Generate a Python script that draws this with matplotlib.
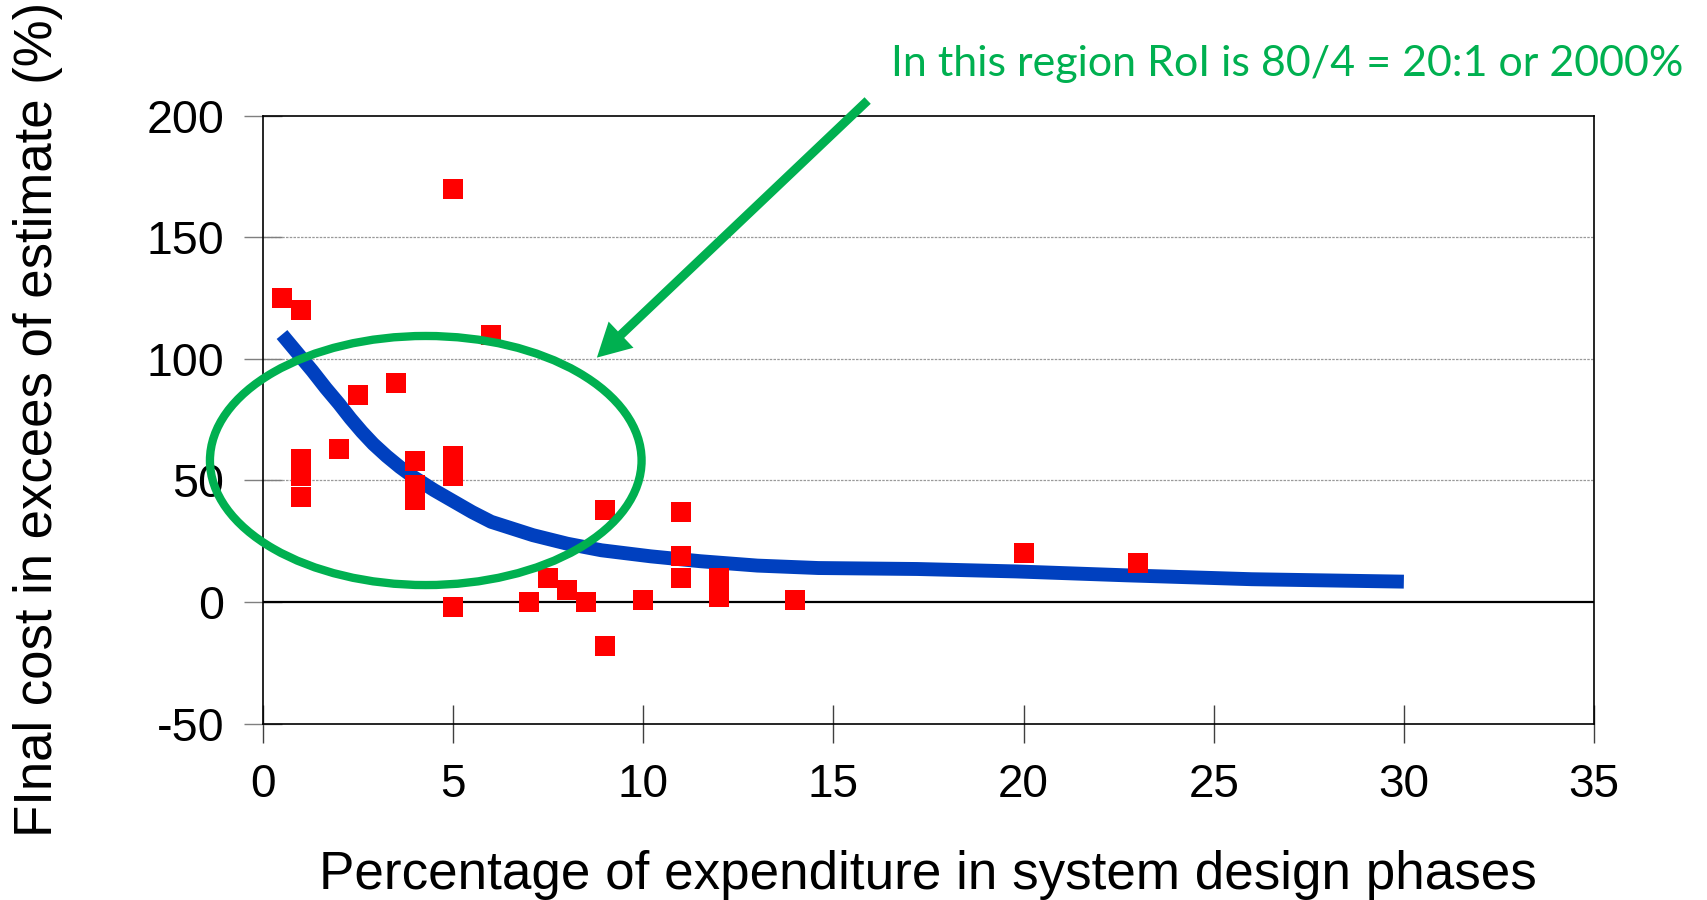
import matplotlib
matplotlib.use('Agg')
import matplotlib.pyplot as plt
from matplotlib import font_manager
from matplotlib.patches import Ellipse

############################################### data
pts_x = [0.5, 1, 1, 1, 1, 1, 2, 2.5, 3.5, 4, 4, 4, 5, 5, 5, 5, 6,
         7, 7.5, 8, 8.5, 9, 9, 10, 11, 11, 11, 12, 12, 14, 20, 23]
pts_y = [125, 120, 59, 55, 52, 43, 63, 85, 90, 58, 48, 42, 170, 60, 52, -2, 110,
         0, 10, 5, 0, 38, -18, 1, 37, 19, 10, 10, 2, 1, 20, 16]

curve_x = [0.5, 1.3, 1.65, 2.0, 2.3, 2.6, 2.9, 3.25, 3.6, 3.95, 4.5, 5.0, 5.5,
           6.0, 6.5, 7.1, 8.0, 8.9, 10.2, 11.5, 13.0, 14.6, 17.2, 19.8, 22.7,
           26.0, 30.0]
curve_y = [110, 95, 88, 81.5, 75.5, 70, 65, 60, 55.5, 51.5, 46, 41.5, 37,
           33, 30.5, 27.5, 24, 21.3, 18.8, 16.8, 15, 14, 13.6, 12.6, 11,
           9.4, 8.4]

x_ticks = [0, 5, 10, 15, 20, 25, 30, 35]
y_ticks = [-50, 0, 50, 100, 150, 200]
grid_y = [50, 100, 150]

note = 'In this region RoI is 80/4 = 20:1 or 2000%'
x_label = 'Percentage of expenditure in system design phases'
y_label = 'FInal cost in excees of estimate (%)'

green = '#00B050'
blue = '#0040BF'
red = '#FF0000'

############################################### fonts
def have(name):
    try:
        font_manager.findfont(name, fallback_to_default=False)
        return True
    except Exception:
        return False

base_font = 'Liberation Sans' if have('Liberation Sans') else 'DejaVu Sans'
note_font = 'Lato' if have('Lato') else base_font
plt.rcParams['font.family'] = [base_font, 'DejaVu Sans']

############################################### figure
fig = plt.figure(figsize=(17.07, 9.0), dpi=100)
ax = fig.add_axes([0.15407, 0.19589, 0.77973, 0.67567])
ax.set_xlim(0, 35)
ax.set_ylim(-50, 200)

for g in grid_y:
    ax.axhline(g, color='#9a9a9a', lw=0.9, ls=(0, (2, 1)), zorder=1)
ax.axhline(0, color='black', lw=1.6, zorder=2)

ax.plot(curve_x, curve_y, color=blue, lw=10, solid_capstyle='butt',
        solid_joinstyle='round', zorder=3)
ax.plot(pts_x, pts_y, ls='none', marker='s', markersize=13.7,
        markerfacecolor=red, markeredgewidth=0, zorder=4)

ell = Ellipse((4.28, 58.2), width=11.35, height=102.4, fill=False,
              edgecolor=green, lw=6, clip_on=False, zorder=5)
ax.add_patch(ell)

ax.annotate('', xy=(8.78, 100.5), xytext=(15.9, 206.2),
            xycoords='data', textcoords='data', annotation_clip=False,
            arrowprops=dict(width=6.5, headwidth=26, headlength=24,
                            facecolor=green, edgecolor=green, lw=0, shrink=0),
            zorder=6)

for s in ax.spines.values():
    s.set_color('black')
    s.set_linewidth(1.2)

ax.set_xticks(x_ticks)
ax.set_yticks(y_ticks)
ax.set_xticklabels([str(t) for t in x_ticks])
ax.set_yticklabels([str(t) for t in y_ticks])
ax.tick_params(axis='y', direction='inout', length=28, width=1,
               color='#7f7f7f', labelsize=33.5, pad=14)
ax.tick_params(axis='x', direction='inout', length=28, width=1,
               color='#404040', labelsize=33, pad=14)

fig.text(0.522, 0.9156, note, color=green, fontsize=31,
         family=[note_font, 'DejaVu Sans'], ha='left', va='baseline')
fig.text(0.5437, 0.0119, x_label, fontsize=38.2, ha='center', va='baseline')
fig.text(0.0225, 0.5344, y_label, fontsize=38, rotation=90,
         ha='center', va='center')

fig.savefig('out.png', dpi=100)
